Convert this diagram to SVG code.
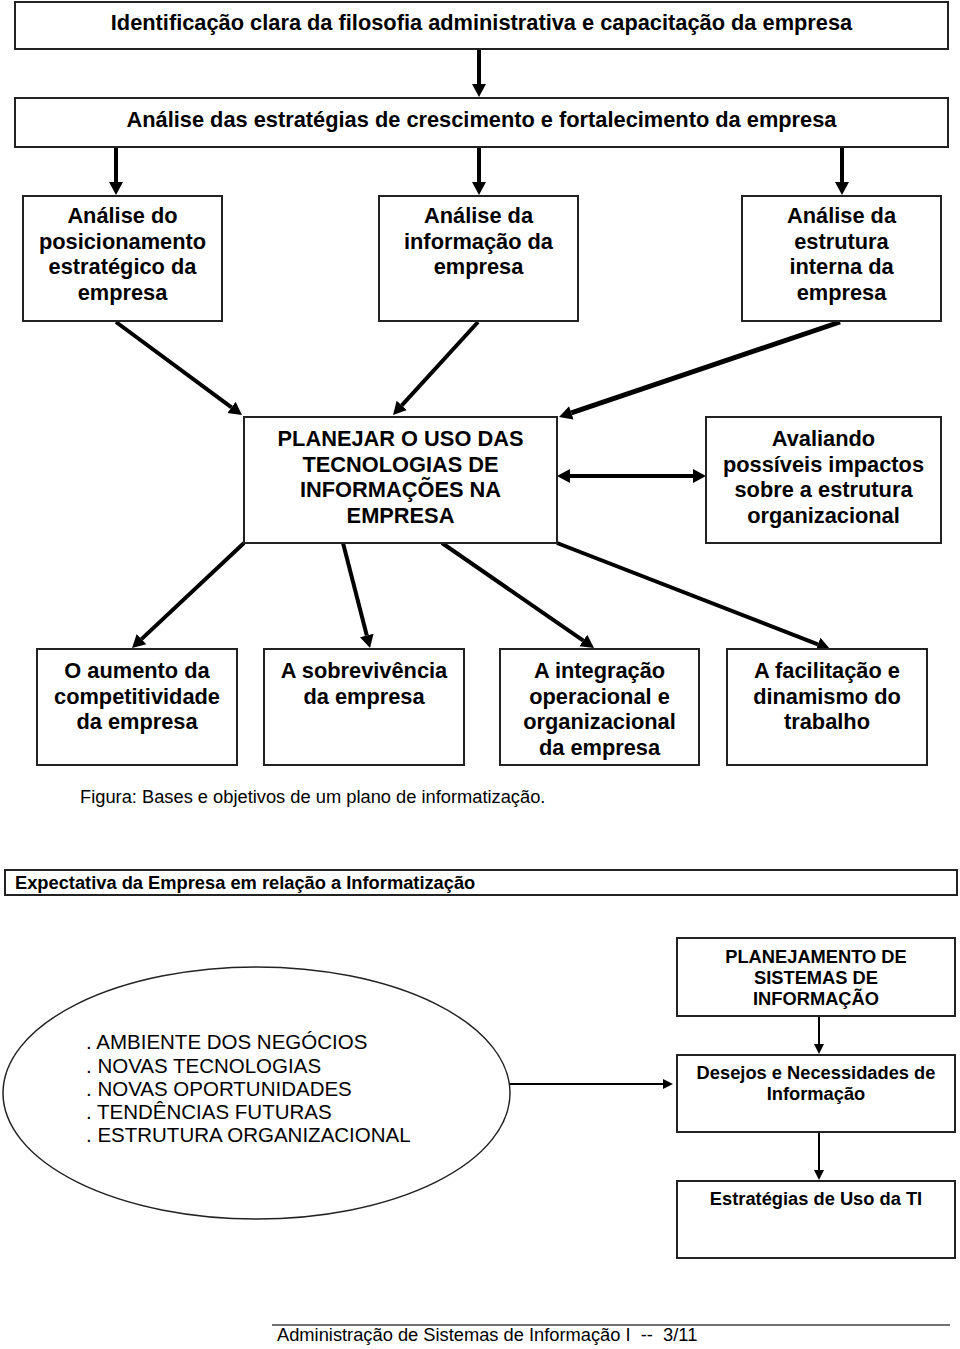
<svg xmlns="http://www.w3.org/2000/svg" width="960" height="1349" viewBox="0 0 960 1349">
<style>
.box{fill:#fff;stroke:#222;stroke-width:2}
.t{font-family:"Liberation Sans",Arial,sans-serif;font-weight:bold;font-size:21.8px;fill:#000;text-anchor:middle}
.s{font-family:"Liberation Sans",Arial,sans-serif;font-weight:bold;font-size:18.3px;fill:#000;text-anchor:middle}
.r{font-family:"Liberation Sans",Arial,sans-serif;font-size:18.3px;fill:#000}
.e{font-family:"Liberation Sans",Arial,sans-serif;font-size:20.5px;fill:#000}
.thick{stroke:#000;stroke-width:4;fill:none;marker-end:url(#ah)}
.thin{stroke:#000;stroke-width:2;fill:none;marker-end:url(#ahs)}
</style>
<defs>
<marker id="ah" markerUnits="userSpaceOnUse" markerWidth="14" markerHeight="16" refX="0" refY="8" orient="auto-start-reverse"><path d="M0,1 L13,8 L0,15 z" fill="#000"/></marker>
<marker id="ahs" markerUnits="userSpaceOnUse" markerWidth="11" markerHeight="12" refX="0" refY="6" orient="auto"><path d="M0,1 L10,6 L0,11 z" fill="#000"/></marker>
</defs>

<g id="connectors">
<path class="thick" d="M479,49 L479,84"/>
<path class="thick" d="M116,147 L116,182"/>
<path class="thick" d="M479,147 L479,182"/>
<path class="thick" d="M842,147 L842,182"/>
<path class="thick" d="M116,322 L231.5,407.3"/>
<path class="thick" d="M478,322 L401.8,405.4"/>
<path class="thick" style="stroke-width:5" d="M840,322 L571.3,412.8"/>
<path class="thick" style="marker-start:url(#ah)" d="M570,476 L693,476"/>
<path class="thick" d="M244,543 L141.5,639.1"/>
<path class="thick" d="M343,543 L366.8,635.4"/>
<path class="thick" d="M442,543 L583.3,640.6"/>
<path class="thick" d="M557,543 L817.9,644.3"/>
<path class="thin" d="M509,1084 L663,1084"/>
<path class="thin" d="M819,1016 L819,1044"/>
<path class="thin" d="M819,1132 L819,1170"/>
</g>

<g id="n1"><rect class="box" x="15" y="2" width="933" height="47"/><text class="t" x="481.5" y="30">Identificação clara da filosofia administrativa e capacitação da empresa</text></g>
<g id="n2"><rect class="box" x="15" y="98" width="933" height="49"/><text class="t" x="481.5" y="127">Análise das estratégias de crescimento e fortalecimento da empresa</text></g>

<g id="n3"><rect class="box" x="23" y="196" width="199" height="125"/><text class="t"><tspan x="122.5" y="223">Análise do</tspan><tspan x="122.5" y="248.5">posicionamento</tspan><tspan x="122.5" y="274">estratégico da</tspan><tspan x="122.5" y="299.5">empresa</tspan></text></g>
<g id="n4"><rect class="box" x="379" y="196" width="199" height="125"/><text class="t"><tspan x="478.5" y="223">Análise da</tspan><tspan x="478.5" y="248.5">informação da</tspan><tspan x="478.5" y="274">empresa</tspan></text></g>
<g id="n5"><rect class="box" x="742" y="196" width="199" height="125"/><text class="t"><tspan x="841.5" y="223">Análise da</tspan><tspan x="841.5" y="248.5">estrutura</tspan><tspan x="841.5" y="274">interna da</tspan><tspan x="841.5" y="299.5">empresa</tspan></text></g>

<g id="n6"><rect class="box" x="244" y="417" width="313" height="126"/><text class="t"><tspan x="400.5" y="446">PLANEJAR O USO DAS</tspan><tspan x="400.5" y="471.5">TECNOLOGIAS DE</tspan><tspan x="400.5" y="497">INFORMAÇÕES NA</tspan><tspan x="400.5" y="522.5">EMPRESA</tspan></text></g>
<g id="n7"><rect class="box" x="706" y="417" width="235" height="126"/><text class="t"><tspan x="823.5" y="446">Avaliando</tspan><tspan x="823.5" y="471.5">possíveis impactos</tspan><tspan x="823.5" y="497">sobre a estrutura</tspan><tspan x="823.5" y="522.5">organizacional</tspan></text></g>

<g id="n8"><rect class="box" x="37" y="649" width="200" height="116"/><text class="t"><tspan x="137" y="678">O aumento da</tspan><tspan x="137" y="703.5">competitividade</tspan><tspan x="137" y="729">da empresa</tspan></text></g>
<g id="n9"><rect class="box" x="264" y="649" width="200" height="116"/><text class="t"><tspan x="364" y="678">A sobrevivência</tspan><tspan x="364" y="703.5">da empresa</tspan></text></g>
<g id="n10"><rect class="box" x="500" y="649" width="199" height="116"/><text class="t"><tspan x="599.5" y="678">A integração</tspan><tspan x="599.5" y="703.5">operacional e</tspan><tspan x="599.5" y="729">organizacional</tspan><tspan x="599.5" y="754.5">da empresa</tspan></text></g>
<g id="n11"><rect class="box" x="727" y="649" width="200" height="116"/><text class="t"><tspan x="827" y="678">A facilitação e</tspan><tspan x="827" y="703.5">dinamismo do</tspan><tspan x="827" y="729">trabalho</tspan></text></g>

<g id="caption"><text class="r" x="80" y="803">Figura: Bases e objetivos de um plano de informatização.</text></g>

<g id="n12"><rect class="box" x="5" y="870" width="952" height="25"/><text class="s" style="text-anchor:start" x="15" y="889">Expectativa da Empresa em relação a Informatização</text></g>

<g id="n13"><rect class="box" x="677" y="938" width="278" height="78"/><text class="s"><tspan x="816" y="963">PLANEJAMENTO DE</tspan><tspan x="816" y="984">SISTEMAS DE</tspan><tspan x="816" y="1005">INFORMAÇÃO</tspan></text></g>
<g id="n14"><rect class="box" x="677" y="1055" width="278" height="77"/><text class="s"><tspan x="816" y="1079">Desejos e Necessidades de</tspan><tspan x="816" y="1100">Informação</tspan></text></g>
<g id="n15"><rect class="box" x="677" y="1181" width="278" height="77"/><text class="s"><tspan x="816" y="1205">Estratégias de Uso da TI</tspan></text></g>

<g id="n16"><ellipse cx="256.5" cy="1093" rx="253.5" ry="126" fill="#fff" stroke="#222" stroke-width="1.5"/><text class="e"><tspan x="86" y="1049">. AMBIENTE DOS NEGÓCIOS</tspan><tspan x="86" y="1072.5">. NOVAS TECNOLOGIAS</tspan><tspan x="86" y="1096">. NOVAS OPORTUNIDADES</tspan><tspan x="86" y="1119">. TENDÊNCIAS FUTURAS</tspan><tspan x="86" y="1142">. ESTRUTURA ORGANIZACIONAL</tspan></text></g>

<g id="footer"><line x1="272" y1="1325" x2="950" y2="1325" stroke="#444" stroke-width="1.5"/><text class="r" x="277" y="1341" xml:space="preserve">Administração de Sistemas de Informação I  --  3/11</text></g>
</svg>
